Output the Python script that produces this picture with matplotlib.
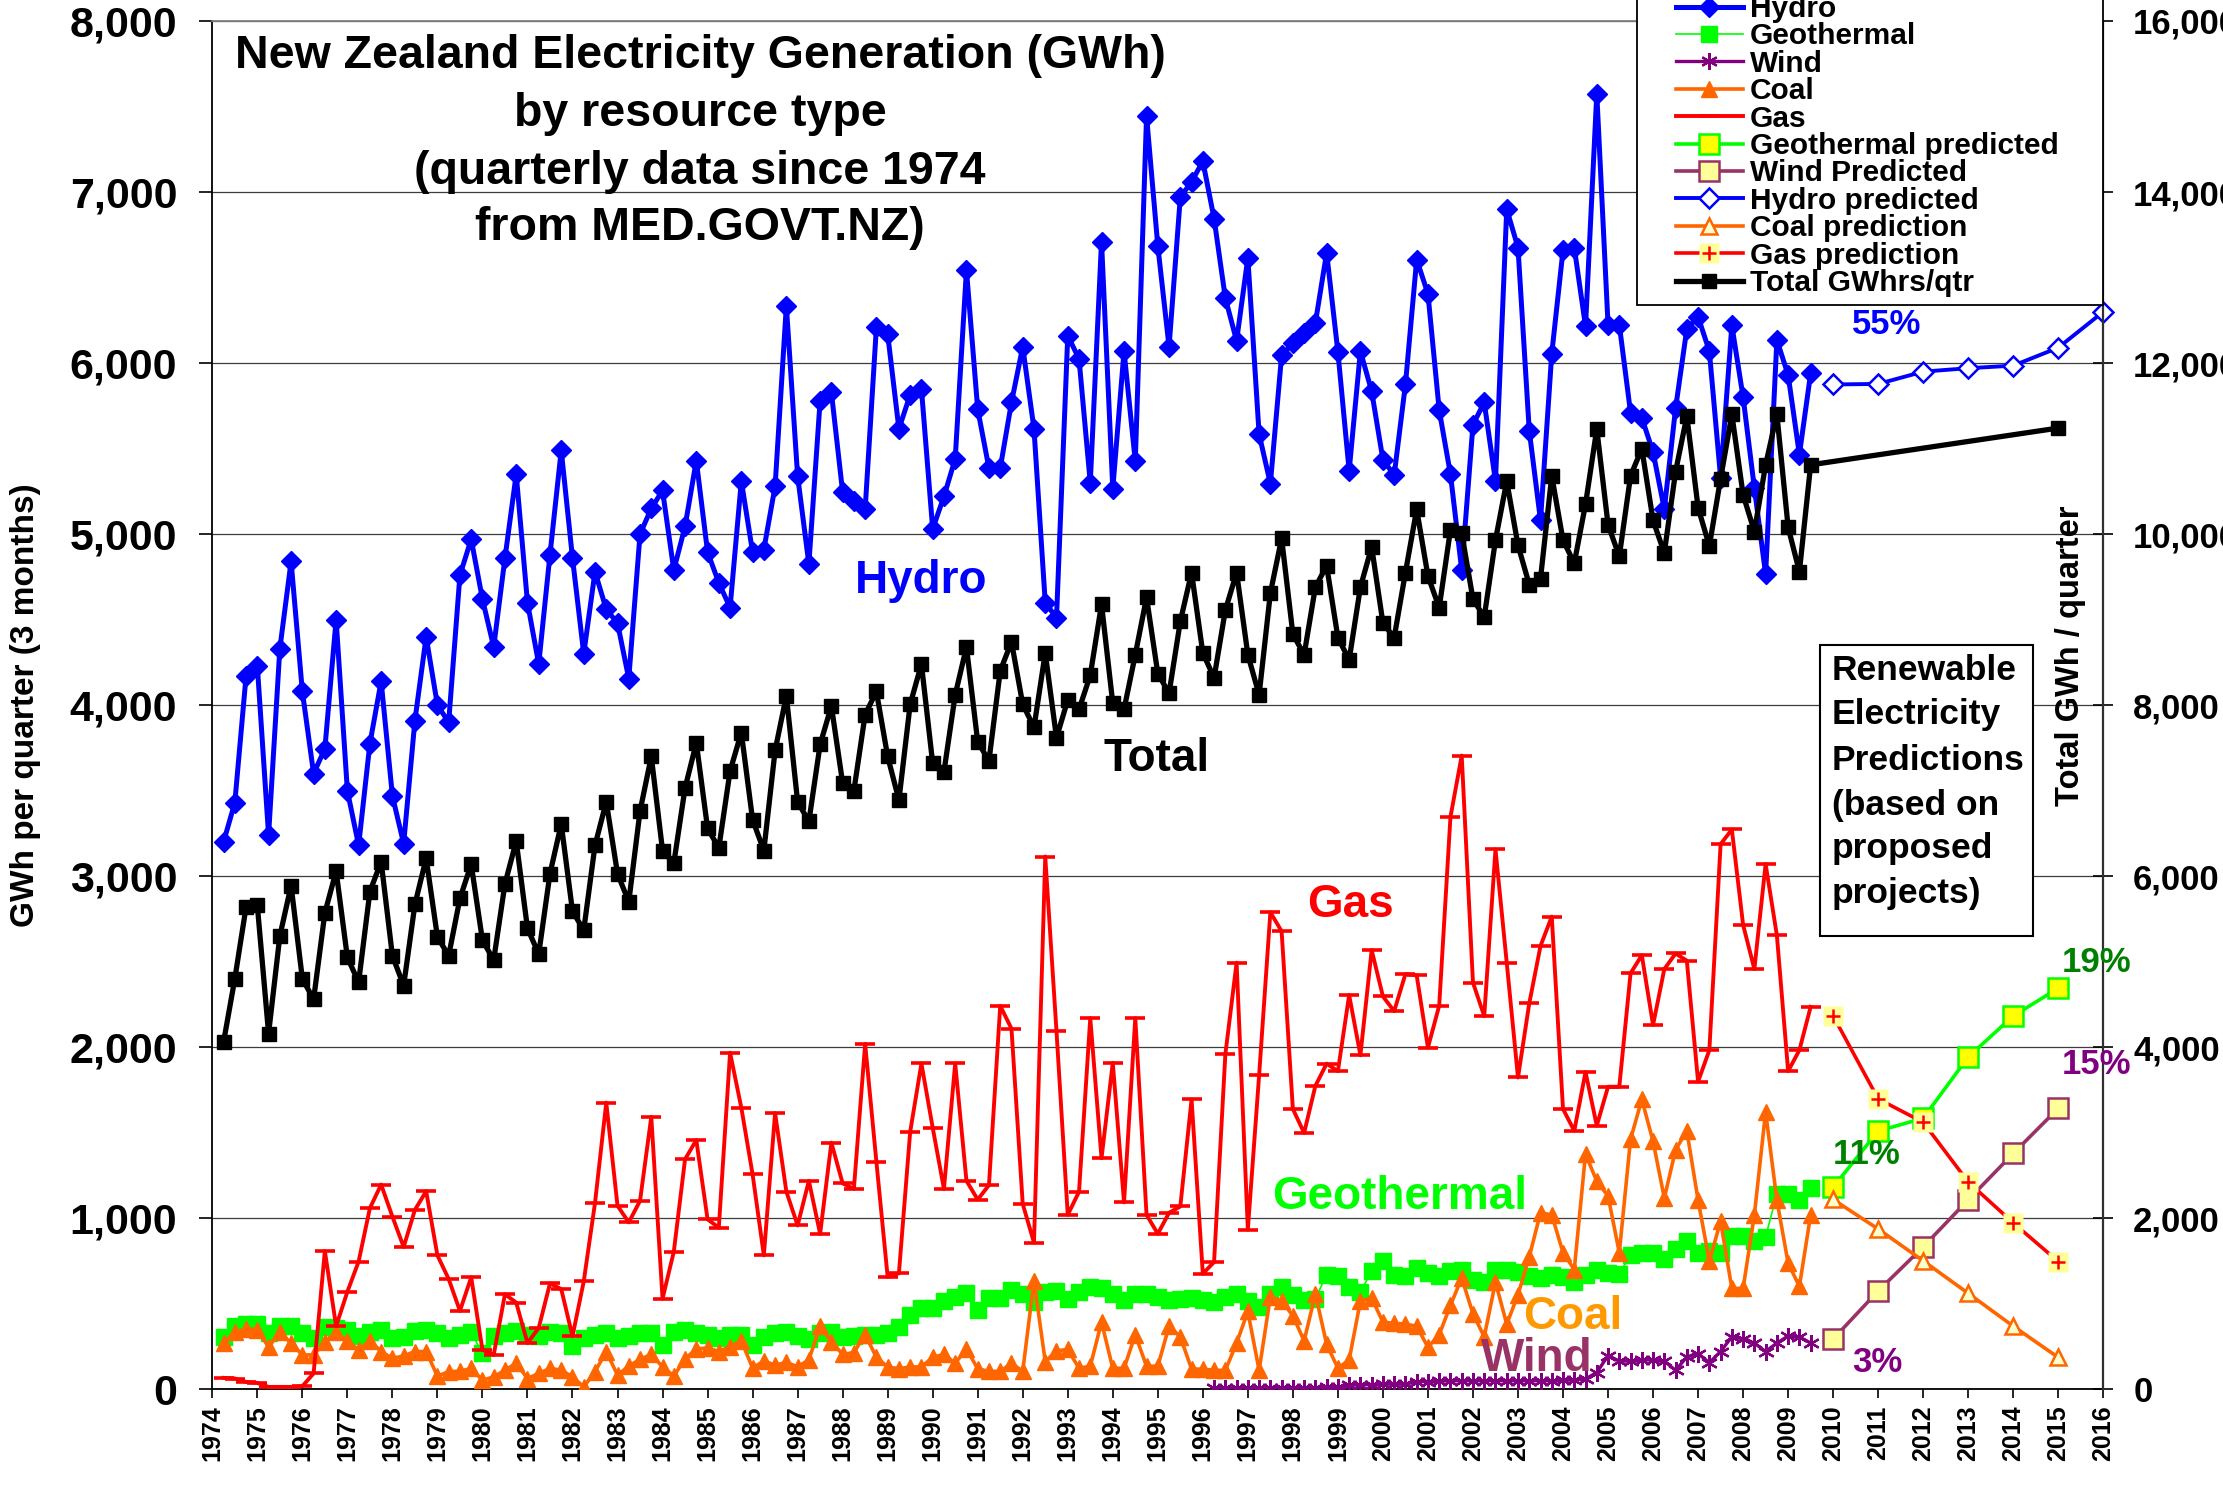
import numpy as np
import matplotlib
matplotlib.use("Agg")
import matplotlib.pyplot as plt
from matplotlib.lines import Line2D
from matplotlib.patches import Rectangle
from matplotlib.ticker import FuncFormatter

plt.rcParams['font.family'] = ['Liberation Sans', 'DejaVu Sans']
plt.rcParams['font.weight'] = 'bold'

# ---------------- data ----------------
first_quarter = 1974.25          # March 1974 quarter
years = list(range(1974, 2017))

hydro = [3200, 3430, 4170, 4230, 3240, 4330, 4840, 4080, 3600, 3745, 4500, 3500, 3180, 3775, 4140, 3470,
         3190, 3910, 4400, 4000, 3900, 4760, 4970, 4620, 4340, 4860, 5350, 4600, 4240, 4880, 5490, 4860,
         4300, 4780, 4560, 4480, 4155, 5000,
         5150, 5255, 4790, 5045, 5430, 4895, 4715, 4570, 5310, 4895, 4910, 5280, 6335, 5340, 4825, 5780,
         5830, 5245, 5195, 5145, 6210, 6170, 5615, 5815, 5850, 5030, 5220, 5440, 6545, 5730, 5385, 5385,
         5770, 6095, 5615, 4600, 4510,
         6160, 6025, 5300, 6710, 5265, 6070, 5425, 7445, 6685, 6095, 6970, 7060, 7180, 6845, 6380, 6130,
         6615, 5585, 5295, 6045, 6115, 6175, 6235, 6645, 6065, 5370, 6070, 5835, 5435, 5345, 5875, 6605,
         6405, 5725, 5350, 4790, 5640, 5770,
         5310, 6900, 6675, 5605, 5080, 6055, 6660, 6675, 6215, 7575, 6225, 6225, 5710, 5680, 5480, 5145,
         5735, 6200, 6270, 6070, 5330, 6220, 5800, 5270, 4765, 6135, 5930, 5465, 5940]

geothermal = [304, 373, 383, 383, 329, 369, 369, 329, 300, 365, 357, 345, 310, 333, 345, 300, 304, 343,
              345, 329, 300, 319, 333, 211, 310, 329, 339, 319, 314, 333, 329, 254, 300, 319, 329, 300,
              314, 329,
              330, 260, 335, 347, 330, 320, 299, 320, 320, 257, 305, 330, 335, 314, 293, 330, 335, 305,
              309, 320, 320, 330, 362, 436, 478, 478, 516, 541, 562, 461, 535, 535, 583, 558, 509, 566, 573,
              530, 570, 600, 590, 560, 520, 560, 555, 540, 525, 530, 535, 520, 510, 540, 560, 515, 480,
              560, 600, 550, 520, 530, 670, 660, 600, 570, 690, 750, 670, 660, 710, 680, 660, 690, 700, 640,
              627, 695, 695, 688, 663, 651, 671, 656, 627, 671, 695, 681, 676, 786, 794, 794, 762, 818,
              867, 799, 811, 794, 897, 897, 867, 892, 1142, 1142, 1106, 1179]

coal = [270, 333, 353, 349, 247, 333, 270, 201, 201, 274, 333, 280, 231, 284, 221, 181, 195, 221, 221, 77,
        103, 106, 122, 53, 73, 112, 152, 63, 93, 122, 112, 73, 14, 103, 221, 83, 136, 175,
        204, 131, 78, 177, 236, 242, 221, 250, 284, 124, 166, 141, 158, 131, 173, 368, 278, 204, 215, 320,
        187, 131, 120, 131, 131, 187, 204, 152, 236, 120, 105, 105, 152, 105, 636, 162, 225,
        233, 123, 135, 393, 123, 123, 319, 135, 135, 369, 307, 118, 118, 111, 111, 270, 455, 111, 541,
        516, 430, 283, 558, 263, 123, 172, 516, 533, 393, 386, 381, 369, 246, 319, 491, 651, 442,
        307, 627, 381, 553, 774, 1032, 1020, 799, 700, 1376, 1216, 1130, 799, 1462, 1695, 1450, 1118,
        1400, 1511, 1106, 749, 983, 590, 590, 1020, 1622, 1106, 737, 602, 1020]

gas = [67, 63, 43, 37, 14, 14, 14, 18, 93, 808, 369, 570, 747, 1059, 1197, 1010, 832, 1049, 1158, 783,
       645, 458, 655, 231, 201, 556, 507, 270, 359, 619, 586, 310, 631, 1089, 1676, 1073, 976, 1102,
       1593, 530, 804, 1345, 1457, 994, 945, 1968, 1646, 1257, 783, 1615, 1156, 958, 1219, 909, 1442,
       1204, 1172, 2019, 1330, 657, 678, 1505, 1905, 1530, 1172, 1905, 1219, 1109, 1194, 2242, 2109,
       1084, 857, 3115, 2094,
       1020, 1155, 2170, 1351, 1909, 1093, 2170, 1020, 909, 1032, 1069, 1695, 676, 744, 1958, 2494, 934,
       1835, 2789, 2678, 1639, 1499, 1774, 1904, 1860, 2305, 1953, 2568, 2297, 2211, 2428, 2420, 1998,
       2243, 3346, 3705, 2378,
       2182, 3157, 2494, 1823, 2256, 2592, 2764, 1639, 1511, 1855, 1541, 1769, 1769, 2432, 2538, 2130,
       2457, 2548, 2506, 1799, 1983, 3187, 3273, 2715, 2457, 3071, 2654, 1860, 1983, 2236]

wind_first_quarter = 1996.25
wind = [5, 5, 5, 8, 8, 8, 10, 10, 10, 10, 12, 12, 25, 25, 28, 30, 30, 30,
        45, 45, 48, 50, 50, 50, 50, 50, 50, 50, 50, 50, 50, 52, 55,
        61, 98, 197, 165, 165, 172, 172, 165, 111, 189, 209, 155, 221, 307, 295, 270, 221, 270, 312,
        307, 270]

# total generation, GWh per quarter (right axis)
total = [4060, 4800, 5640, 5660, 4160, 5300, 5890, 4800, 4560, 5570, 6060, 5050, 4760, 5820, 6170, 5070,
         4720, 5670, 6210, 5290, 5070, 5740, 6140, 5250, 5020, 5910, 6410, 5390, 5090, 6030, 6610, 5590,
         5370, 6360, 6870, 6030, 5700, 6760,
         7400, 6300, 6150, 7030, 7560, 6560, 6330, 7230, 7680, 6660, 6300, 7470, 8110, 6870, 6640, 7540,
         7990, 7090, 7000, 7890, 8160, 7400, 6890, 8010, 8480, 7320, 7220, 8120, 8680, 7570, 7350, 8400,
         8740, 8010, 7740, 8610, 7620,
         8060, 7950, 8350, 9180, 8020, 7950, 8590, 9260, 8370, 8140, 8980, 9550, 8610, 8320, 9110, 9550,
         8590, 8120, 9310, 9950, 8830, 8590, 9380, 9630, 8790, 8530, 9380, 9850, 8960, 8790, 9550, 10290,
         9510, 9140, 10050, 10010, 9240, 9030,
         9930, 10620, 9870, 9410, 9480, 10680, 9930, 9660, 10350, 11230, 10110, 9740, 10680, 11000, 10160,
         9780, 10730, 11380, 10310, 9860, 10650, 11400, 10460, 10030, 10810, 11400, 10080, 9560, 10810]
total_2015_year = 2015
total_2015 = 11240

pred_years = [2010, 2011, 2012, 2013, 2014, 2015]
geo_pred = [1182, 1510, 1585, 1943, 2183, 2345]
wind_pred = [294, 575, 833, 1108, 1379, 1643]
coal_pred = [1110, 937, 751, 561, 369, 186]
gas_pred = [2183, 1698, 1561, 1212, 973, 747]
hydro_pred_years = [2010, 2011, 2012, 2013, 2014, 2015, 2016]
hydro_pred = [5875, 5878, 5950, 5970, 5985, 6090, 6300]

# ---------------- colours ----------------
C_HYDRO = '#0000FF'
C_GEO = '#00FF00'
C_WIND = '#800080'
C_WINDP = '#993366'
C_COAL = '#FF6600'
C_GAS = '#FF0000'
C_PALE = '#FFFF99'

W, H = 2223, 1494
fig = plt.figure(figsize=(W / 100, H / 100), dpi=100)
L, R = 212.3 / W, 2103.3 / W
B, T = 1 - 1389.3 / H, 1 - 21.0 / H
ax = fig.add_axes([L, B, R - L, T - B])
ax.set_xlim(1974, 2016)
ax.set_ylim(0, 8000)
ax.set_yticks(range(0, 8001, 1000))
ax.yaxis.set_major_formatter(FuncFormatter(lambda v, p: f'{v:,.0f}'))
ax.set_xticks(years)
ax.set_xticklabels([str(y) for y in years], rotation=90, fontsize=18, fontweight='bold')
ax.tick_params(axis='x', direction='out', length=6.5, width=1.2, pad=5)
ax.tick_params(axis='y', direction='out', length=9.4, width=1.2, pad=15.8, labelsize=31)
ax.yaxis.grid(True, color='#3c3c3c', lw=0.9)
ax.set_axisbelow(True)
for s in ['left', 'bottom']:
    ax.spines[s].set_color('black')
    ax.spines[s].set_linewidth(1.3)
ax.spines['top'].set_color('#808080')
ax.spines['top'].set_linewidth(1.3)
ax.spines['right'].set_visible(False)

q_h = first_quarter + 0.25 * np.arange(len(hydro))
q_g = first_quarter + 0.25 * np.arange(len(geothermal))
q_c = first_quarter + 0.25 * np.arange(len(coal))
q_s = first_quarter + 0.25 * np.arange(len(gas))
q_w = wind_first_quarter + 0.25 * np.arange(len(wind))
q_t = list(first_quarter + 0.25 * np.arange(len(total))) + [total_2015_year]
total_all = total + [total_2015]

st_hydro = dict(color=C_HYDRO, lw=3.6, marker='D', ms=10.5, mfc=C_HYDRO, mec=C_HYDRO, mew=1)
st_geo = dict(color=C_GEO, lw=1.2, marker='s', ms=11.5, mfc=C_GEO, mec=C_GEO, mew=1)
st_wind = dict(color=C_WIND, lw=2.4, marker=(6, 2, 0), ms=12, mec=C_WIND, mew=1.6)
st_coal = dict(color=C_COAL, lw=2.6, marker='^', ms=11, mfc=C_COAL, mec=C_COAL, mew=1)
st_gas = dict(color=C_GAS, lw=2.8, marker='_', ms=14, mec=C_GAS, mew=2.6)
st_geop = dict(color=C_GEO, lw=2.6, marker='s', ms=14, mfc='#FFFF00', mec=C_GEO, mew=1.8)
st_windp = dict(color=C_WINDP, lw=2.6, marker='s', ms=14, mfc=C_PALE, mec=C_WINDP, mew=1.8)
st_hydrop = dict(color=C_HYDRO, lw=2.8, marker='D', ms=10.5, mfc='white', mec=C_HYDRO, mew=1.8)
st_coalp = dict(color=C_COAL, lw=2.6, marker='^', ms=12, mfc='#FFFFCC', mec=C_COAL, mew=1.8)
st_gasp_bg = dict(color=C_GAS, lw=2.6, marker='s', ms=14, mfc=C_PALE, mec='none')
st_gasp_fg = dict(ls='none', marker='+', ms=10, mec=C_GAS, mew=1.8)
st_total = dict(color='black', lw=3.8, marker='s', ms=9.5, mfc='black', mec='black', mew=1)

ax.plot(q_h, hydro, zorder=3, **st_hydro)
ax.plot(q_g, geothermal, zorder=4, **st_geo)
ax.plot(q_w, wind, zorder=5, **st_wind)
ax.plot(q_c, coal, zorder=6, **st_coal)
ax.plot(q_s, gas, zorder=7, **st_gas)
ax.plot(pred_years, geo_pred, zorder=8, **st_geop)
ax.plot(pred_years, wind_pred, zorder=8, **st_windp)
ax.plot(pred_years, coal_pred, zorder=8, **st_coalp)
ax.plot(pred_years, gas_pred, zorder=8, **st_gasp_bg)
ax.plot(pred_years, gas_pred, zorder=9, **st_gasp_fg)
ax.plot(hydro_pred_years, hydro_pred, zorder=8, clip_on=False, **st_hydrop)

ax2 = ax.twinx()
ax2.set_ylim(0, 16000)
ax2.set_yticks(range(0, 16001, 2000))
ax2.yaxis.set_major_formatter(FuncFormatter(lambda v, p: f'{v:,.0f}'))
ax2.tick_params(axis='y', direction='inout', length=15, width=1.2, pad=14, labelsize=25)
for s in ['left', 'bottom', 'top']:
    ax2.spines[s].set_visible(False)
ax2.spines['right'].set_color('#303030')
ax2.spines['right'].set_linewidth(1.6)
ax2.plot(q_t, total_all, zorder=10, **st_total)


def px(x, y):
    return x / W, 1 - y / H


def ftext(x, y, s, **kw):
    kw.setdefault('ha', 'center')
    kw.setdefault('va', 'center')
    fig.text(*px(x, y), s, fontweight='bold', **kw)


# title
for yy, line in zip([56, 114, 172, 228],
                    ['New Zealand Electricity Generation (GWh)', 'by resource type',
                     '(quarterly data since 1974', 'from MED.GOVT.NZ)']):
    ftext(700, yy, line, fontsize=33.5, color='black')

# axis labels
ftext(25.5, 705, 'GWh per quarter (3 months)', fontsize=24, rotation=90)
ftext(2070, 656, 'Total GWh / quarter', fontsize=23.5, rotation=90)

# in-plot labels
ftext(921, 581, 'Hydro', fontsize=33, color=C_HYDRO)
ftext(1157, 759, 'Total', fontsize=33, color='black')
ftext(1350, 905, 'Gas', fontsize=33, color=C_GAS)
ftext(1400, 1197, 'Geothermal', fontsize=33, color=C_GEO)
ftext(1573, 1317, 'Coal', fontsize=33, color='#FF9900')
ftext(1537, 1359, 'Wind', fontsize=33, color=C_WINDP)
ftext(1887, 325, '55%', fontsize=25, color=C_HYDRO)
ftext(2097, 962, '19%', fontsize=25, color='#008000')
ftext(2097, 1065, '15%', fontsize=25, color=C_WIND)
ftext(1867, 1155, '11%', fontsize=25, color='#008000')
ftext(1877, 1363, '3%', fontsize=25, color=C_WIND)

# renewable predictions box
fig.add_artist(Rectangle(px(1820, 936), (2033 - 1820) / W, (936 - 645) / H, transform=fig.transFigure,
                         facecolor='white', edgecolor='black', lw=1.5, zorder=1))
for yy, line in zip([670, 715, 760, 805, 849, 893],
                    ['Renewable', 'Electricity', 'Predictions', '(based on', 'proposed', 'projects)']):
    ftext(1832, yy, line, fontsize=25.5, ha='left')

# legend
fig.add_artist(Rectangle(px(1637, 305), (2103 - 1637) / W, 320 / H, transform=fig.transFigure,
                         facecolor='white', edgecolor='black', lw=1.3, zorder=1))
handles = [Line2D([], [], **st_hydro), Line2D([], [], **st_geo), Line2D([], [], **st_wind),
           Line2D([], [], **st_coal), Line2D([], [], **st_gas), Line2D([], [], **st_geop),
           Line2D([], [], **st_windp), Line2D([], [], **st_hydrop), Line2D([], [], **st_coalp),
           (Line2D([], [], **st_gasp_bg), Line2D([], [], **st_gasp_fg)), Line2D([], [], **st_total)]
labels = ['Hydro', 'Geothermal', 'Wind', 'Coal', 'Gas', 'Geothermal predicted', 'Wind Predicted',
          'Hydro predicted', 'Coal prediction', 'Gas prediction', 'Total GWhrs/qtr']
fig.legend(handles, labels, loc='lower left', bbox_to_anchor=px(1676, 297), frameon=False,
           fontsize=21.5, labelspacing=-0.02, handlelength=2.23, handletextpad=0.24, borderpad=0,
           borderaxespad=0, numpoints=1)

fig.savefig('out.png', dpi=100)
